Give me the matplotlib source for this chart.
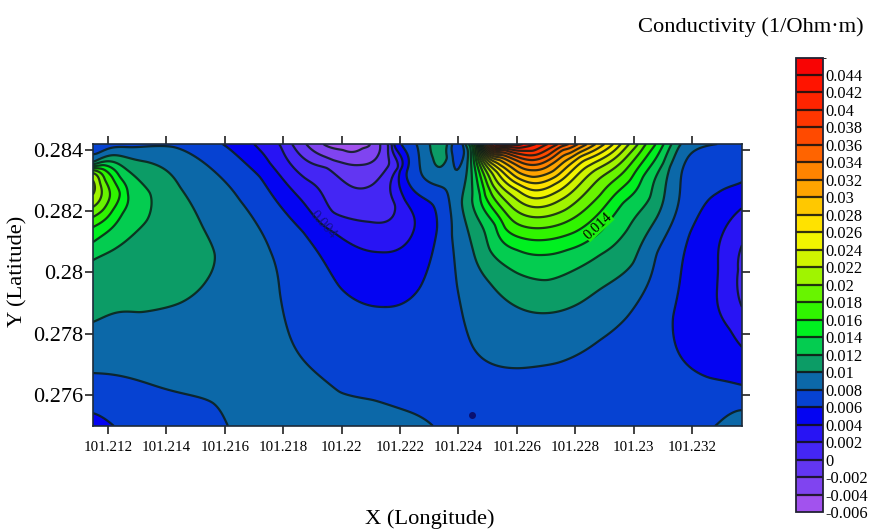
import numpy as np
import matplotlib
matplotlib.use("Agg")
import matplotlib.pyplot as plt
from matplotlib.colors import ListedColormap, BoundaryNorm

plt.rcParams['font.family'] = ['Liberation Serif', 'DejaVu Serif']
plt.rcParams['contour.negative_linestyle'] = 'solid'

# Readings from the picture: each pair is (longitude - 101.21, latitude) in thousandths of a degree.
cm2 = [(8.82,284.16),(9.71,283.67),(10.63,283.51),(11.25,283.83),(11.32,284.16)]
cm4 = [(9.43,284.16),(10.05,284.00),(10.73,284.06),(10.97,284.16)]
c00 = [(8.33,284.16),(9.50,283.41),(10.39,282.79),(10.90,282.79),(11.55,283.41),(11.59,284.16)]
c02a = [(7.89,284.16),(8.75,283.08),(9.71,281.97),(10.97,281.65),(11.83,282.20),(11.93,283.41),(11.73,284.16)]
c02b = [(23.71,280.89),(23.58,280.08),(23.71,278.87)]
c04a = [(7.10,284.10),(7.55,283.57),(8.68,282.30),(9.71,281.32),(11.32,280.66),(12.45,281.32),(12.17,282.36),(12.00,283.34),(11.79,284.16)]
c04b = [(23.71,282.10),(23.06,281.29),(22.86,279.52),(23.30,278.12),(23.71,277.56)]
c06a = [(1.49,275.40),(2.17,275.01)]
c06b = [(6.07,284.10),(7.20,283.12),(7.55,282.63),(8.68,281.32),(9.94,279.52),(11.42,278.87),(12.69,279.52),(13.13,280.73),(13.27,281.45),(13.13,282.20),(12.24,283.08),(12.07,284.16)]
c06c = [(23.71,282.95),(22.86,282.59),(21.93,281.29),(21.35,278.54),(21.69,277.14),(22.62,276.55),(23.71,276.32)]
c08a = [(1.49,283.87),(2.07,284.06),(4.23,284.10),(5.60,283.34),(6.52,282.36),(7.55,280.73),(7.89,279.32),(8.13,278.21),(9.02,276.81),(9.94,276.09),(11.07,275.83),(12.44,275.40),(13.13,274.98)]
c08b = [(1.49,276.71),(3.34,276.38),(5.60,275.73),(6.11,274.98)]
c08c = [(12.58,284.16),(12.69,283.41),(13.61,282.63),(13.78,281.22),(13.95,279.59),(14.16,278.54),(14.50,277.56),(15.08,277.04),(16.11,276.87),(17.38,277.04),(18.85,277.79),(19.77,278.54),(20.80,280.63),(21.59,282.69),(22.38,284.10)]
c08d = [(13.78,284.16),(13.81,283.67),(13.95,283.34),(14.16,283.74),(14.16,284.16)]
c08e = [(22.79,274.98),(23.71,275.50)]
c10a = [(1.49,283.61),(2.17,283.83),(3.34,283.61),(4.47,282.79),(5.25,281.48),(5.66,280.57),(5.39,279.75),(4.47,279.00),(3.09,278.70),(1.49,278.38)]
c10b = [(13.03,284.16),(13.13,283.74),(13.37,283.44),(13.61,283.74),(13.61,284.16)]
c10c = [(14.26,284.13),(14.12,282.30),(14.50,280.73),(15.08,279.65),(16.01,278.87),(17.03,278.67),(18.16,279.00),(18.85,279.45),(19.98,280.31),(20.80,281.81),(21.24,283.44),(21.59,284.16)]
c12a = [(1.49,283.54),(1.83,283.61),(2.75,283.28),(3.44,282.59),(3.34,281.71),(2.17,280.73),(1.49,280.40)]
c12b = [(14.40,284.13),(14.47,282.36),(15.08,280.73),(16.01,279.98),(17.03,279.75),(18.16,280.17),(18.85,280.57),(19.77,281.38),(20.56,282.46),(21.01,283.57),(21.28,284.16)]
c14a = [(1.49,283.48),(1.83,283.51),(2.41,283.12),(2.68,282.59),(2.51,281.94),(1.49,280.99)]
c14b = [(14.47,284.13),(14.74,282.53),(15.25,281.55),(16.01,280.73),(16.90,280.57),(17.72,280.73),(18.85,281.32),(19.19,281.71),(19.64,282.27),(20.32,283.12),(21.01,284.16)]
c16a = [(1.49,283.41),(1.90,283.34),(2.14,283.12),(2.41,282.59),(2.17,282.04),(1.49,281.48)]
c16b = [(14.53,284.13),(14.91,282.53),(15.60,281.45),(16.55,281.06),(17.99,281.32),(18.85,281.97),(19.88,283.02),(20.73,284.16)]
c18a = [(1.49,283.34),(1.90,283.02),(2.07,282.59),(1.83,282.04),(1.49,281.81)]
c18b = [(14.60,284.13),(15.08,282.69),(15.77,281.78),(16.55,281.45),(17.82,281.71),(18.85,282.53),(20.39,284.16)]
c20a = [(1.49,283.25),(1.73,282.92),(1.79,282.59),(1.49,282.14)]
c20b = [(14.64,284.13),(15.18,282.85),(15.87,282.10),(16.55,281.81),(17.65,282.04),(18.85,283.08),(20.12,284.16)]
c22 = [(14.67,284.13),(15.25,283.08),(15.94,282.43),(16.55,282.14),(17.48,282.36),(18.68,283.34),(19.81,284.16)]
c24 = [(14.71,284.13),(15.32,283.28),(16.01,282.69),(16.55,282.43),(17.48,282.69),(18.51,283.51),(19.53,284.16)]
c26 = [(14.74,284.13),(15.36,283.41),(16.04,282.89),(16.55,282.69),(17.31,282.89),(18.34,283.67),(19.26,284.16)]
c28 = [(14.77,284.13),(15.42,283.51),(16.04,283.08),(16.55,282.92),(17.31,283.12),(18.16,283.77),(18.95,284.16)]
c30 = [(14.81,284.13),(15.42,283.67),(16.04,283.28),(16.55,283.12),(17.24,283.31),(17.99,283.83),(18.64,284.16)]
c32 = [(14.84,284.13),(15.49,283.74),(16.04,283.48),(16.55,283.34),(17.14,283.51),(17.82,283.90),(18.34,284.16)]
c34 = [(14.88,284.13),(15.53,283.83),(16.04,283.64),(16.55,283.51),(17.14,283.70),(17.58,284.00),(18.03,284.16)]
c36 = [(14.95,284.13),(15.60,283.90),(16.11,283.74),(16.55,283.67),(17.07,283.83),(17.68,284.16)]
c38 = [(15.01,284.13),(15.60,284.00),(16.11,283.87),(16.55,283.83),(16.97,283.97),(17.34,284.16)]
c40 = [(15.08,284.16),(15.70,284.03),(16.55,283.97),(16.97,284.16)]
c42 = [(15.15,284.16),(15.77,284.10),(16.28,284.10),(16.52,284.16)]
c44 = [(15.29,284.16),(16.04,284.16)]
# Local extremes and zone interiors: (longitude - 101.21, latitude, value), thousandths.
extremes = [(1.49,282.79,22.5),(10.29,284.20,-5.5),(23.71,280.08,1.2),(13.30,284.13,11.2),
            (13.95,284.13,6.5),(15.60,284.20,45.5),(2.75,284.20,7.4),(6.18,278.12,9.0),
            (9.60,275.66,8.6),(17.14,275.67,7.0),(12.00,277.14,7.0),(3.44,275.40,7.2),(20.22,275.83,7.0)]

x_ticks = [101.212,101.214,101.216,101.218,101.22,101.222,101.224,101.226,101.228,101.23,101.232]
x_tick_labels = ['101.212','101.214','101.216','101.218','101.22','101.222','101.224','101.226','101.228','101.23','101.232']
y_ticks = [0.276,0.278,0.28,0.282,0.284]
y_tick_labels = ['0.276','0.278','0.28','0.282','0.284']
bar_levels = [-0.006,-0.004,-0.002,0,0.002,0.004,0.006,0.008,0.01,0.012,0.014,0.016,0.018,0.02,
              0.022,0.024,0.026,0.028,0.03,0.032,0.034,0.036,0.038,0.04,0.042,0.044,0.046]
bar_labels = ['-0.006','-0.004','-0.002','0','0.002','0.004','0.006','0.008','0.01','0.012','0.014','0.016',
              '0.018','0.02','0.022','0.024','0.026','0.028','0.03','0.032','0.034','0.036','0.038','0.04',
              '0.042','0.044']
band_colors = ['#a252ee','#8044f0','#6236f2','#4426f4','#2814f4','#0404f2','#0642d2','#0c68a8','#0c9c66','#04cc50',
               '#00f020','#30f400','#68f400','#a0f400','#d0f400','#f2f400','#ffe200','#ffc800','#ffa400','#ff8400',
               '#ff6400','#ff4a00','#ff3600','#ff2400','#ff1400','#f80404']

groups = [(-2,cm2),(-4,cm4),(0,c00),(2,c02a),(2,c02b),(4,c04a),(4,c04b),(6,c06a),(6,c06b),(6,c06c),
          (8,c08a),(8,c08b),(8,c08c),(8,c08d),(8,c08e),(10,c10a),(10,c10b),(10,c10c),(12,c12a),(12,c12b),
          (14,c14a),(14,c14b),(16,c16a),(16,c16b),(18,c18a),(18,c18b),(20,c20a),(20,c20b),(22,c22),(24,c24),
          (26,c26),(28,c28),(30,c30),(32,c32),(34,c34),(36,c36),(38,c38),(40,c40),(42,c42),(44,c44)]
pts = [(x, y, lev) for lev, g in groups for x, y in g] + list(extremes)
pts = np.array(pts, float)
px, py, pv = pts[:, 0], pts[:, 1] - 280.0, pts[:, 2]

def tps(r2):
    return 0.5 * r2 * np.log(r2 + 1e-12)

# Smooth surface through the readings (thin-plate spline, solved directly)
n = len(pts)
d2 = (px[:, None] - px[None, :])**2 + (py[:, None] - py[None, :])**2
P = np.column_stack([np.ones(n), px, py])
A = np.zeros((n + 3, n + 3))
A[:n, :n] = tps(d2) + 5e-3 * np.eye(n)
A[:n, n:] = P
A[n:, :n] = P.T
w = np.linalg.solve(A, np.r_[pv, 0, 0, 0])

gx = np.linspace(1.486, 23.71, 445)
gy = np.linspace(274.98, 284.196, 190)
GX, GY = np.meshgrid(gx, gy)
qx, qy = GX.ravel(), GY.ravel() - 280.0
Z = np.empty(qx.size)
for i in range(0, qx.size, 5000):
    a, b = qx[i:i+5000], qy[i:i+5000]
    k = tps((a[:, None] - px)**2 + (b[:, None] - py)**2)
    Z[i:i+5000] = k @ w[:n] + w[n] + w[n+1] * a + w[n+2] * b
Z = np.clip(Z.reshape(GX.shape), -5.9, 45.9) / 1000.0
lon = 101.21 + gx / 1000.0
lat = gy / 1000.0

fig = plt.figure(figsize=(8.71, 5.29), dpi=100, facecolor='white')
W, H = 871.0, 529.0
ax = fig.add_axes([93/W, 1-426/H, (742-93)/W, (426-144)/H])
cmap = ListedColormap(band_colors)
norm = BoundaryNorm(bar_levels, cmap.N)
cf = ax.contourf(lon, lat, Z, levels=bar_levels, cmap=cmap, norm=norm)
cl = ax.contour(lon, lat, Z, levels=bar_levels[1:-1], colors='#0c1c18', linewidths=1.6, alpha=0.85)

ax.set_xlim(101.21149, 101.23371)
ax.set_ylim(0.27498, 0.284196)
ax.set_xticks(x_ticks)
ax.set_xticklabels(x_tick_labels, fontsize=10.8)
ax.set_yticks(y_ticks)
ax.set_yticklabels(y_tick_labels, fontsize=16)
ax.tick_params(axis='both', direction='out', length=5.8, width=1.3, color='#333333',
               top=True, right=True)
ax.tick_params(axis='x', pad=5)
ax.tick_params(axis='y', pad=1.5)
for s in ax.spines.values():
    s.set_color('#1c2a3a')
    s.set_linewidth(1.2)

ax.text(101.22877, 0.28152, '0.014', fontsize=10.5, rotation=43, ha='center', va='center', color='black',
        bbox=dict(boxstyle='square,pad=0.02', fc='#1cf010', ec='none'))
ax.text(101.21938, 0.28155, '0.004', fontsize=10.5, rotation=-48, ha='center', va='center', color='#10108c')
ax.plot([101.22447], [0.27535], marker='o', ms=4, color='#0a1070', ls='none')

fig.text(18/W, 1-271/H, 'Y (Latitude)', rotation=90, fontsize=16.2, ha='center', va='center')
fig.text(430/W, 1-519/H, 'X (Longitude)', fontsize=16.2, ha='center', va='center')
fig.text(751/W, 1-27/H, 'Conductivity (1/Ohm\u00b7m)', fontsize=16.2, ha='center', va='center')

cax = fig.add_axes([796/W, 1-512/H, 27/W, (512-57.5)/H])
cb = fig.colorbar(cf, cax=cax, spacing='uniform', ticks=bar_levels[:-1])
cb.set_ticklabels(bar_labels)
cb.ax.tick_params(length=0, labelsize=11.8, pad=2)
cb.outline.set_edgecolor('#223')
cb.outline.set_linewidth(1.3)
for lev in bar_levels[1:-1]:
    cb.ax.axhline(lev, color='#101010', lw=1.6, alpha=0.85)

fig.savefig('out.png', dpi=100, facecolor='white')
